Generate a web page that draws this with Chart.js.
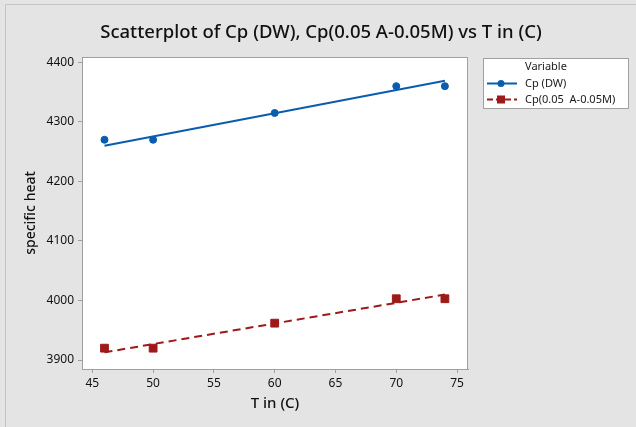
<!DOCTYPE html>
<html>
<head>
<meta charset="utf-8">
<script src="https://cdn.jsdelivr.net/npm/chart.js@4.4.1/dist/chart.umd.min.js"></script>
<style>
    html, body { margin: 0; padding: 0; background: #e4e4e4; }
    #wrap { width: 636px; height: 427px; position: relative; }
</style>
</head>
<body>
<div id="wrap"><canvas id="scatterChart" width="636" height="427"></canvas></div>
<script>
// temperatures (C)
const tempC = [46, 50, 60, 70, 74];
// specific heat readings
const cpDW = [4270, 4270, 4315, 4360, 4360];
const cpMix = [3920, 3920, 3962, 4003, 4003];
// fitted line end points
const fitX = [46, 74];
const fitDW = [4260, 4369];
const fitMix = [3913, 4010];
// axis ticks
const xTicks = [45, 50, 55, 60, 65, 70, 75];
const yTicks = [3900, 4000, 4100, 4200, 4300, 4400];

const seriesNames = ['Cp (DW)', 'Cp(0.05  A-0.05M)'];
const blue = '#0a5cae';
const red = '#9c1a1a';
const fontName = "'Noto Sans', 'Open Sans', sans-serif";

function toPoints(xs, ys) {
    return xs.map((x, i) => ({ x: x, y: ys[i] }));
}

// grey page, white plot area with a frame
const backdrop = {
    id: 'backdrop',
    beforeDraw(chart) {
        const { ctx, chartArea: a } = chart;
        ctx.save();
        ctx.fillStyle = '#e4e4e4';
        ctx.fillRect(0, 0, chart.width, chart.height);
        ctx.strokeStyle = '#c4c4c4';
        ctx.lineWidth = 1;
        ctx.beginPath();
        ctx.moveTo(5.5, chart.height);
        ctx.lineTo(5.5, 4.5);
        ctx.lineTo(chart.width, 4.5);
        ctx.stroke();
        ctx.fillStyle = '#ffffff';
        ctx.fillRect(a.left, a.top, a.right - a.left, a.bottom - a.top);
        ctx.restore();
    },
    afterDraw(chart) {
        const { ctx, chartArea: a } = chart;
        ctx.save();
        ctx.strokeStyle = '#a0a0a0';
        ctx.lineWidth = 1;
        ctx.strokeRect(a.left + 0.5, a.top + 0.5, a.right - a.left - 1, a.bottom - a.top);
        ctx.restore();
    }
};

// title over the whole page
const pageTitle = {
    id: 'pageTitle',
    afterDraw(chart) {
        const ctx = chart.ctx;
        ctx.save();
        ctx.fillStyle = '#111111';
        ctx.font = '500 18.5px ' + fontName;
        ctx.textAlign = 'center';
        ctx.textBaseline = 'middle';
        ctx.fillText('Scatterplot of Cp (DW), Cp(0.05 A-0.05M) vs T in (C)', 321, 33);
        ctx.restore();
    }
};

// Minitab style legend box with line + marker symbols
const sideLegend = {
    id: 'sideLegend',
    afterDraw(chart) {
        const ctx = chart.ctx;
        ctx.save();
        ctx.fillStyle = '#ffffff';
        ctx.fillRect(483, 58, 145, 50);
        ctx.strokeStyle = '#a0a0a0';
        ctx.lineWidth = 1;
        ctx.strokeRect(483.5, 58.5, 145, 50);

        ctx.fillStyle = '#1a1a1a';
        ctx.font = '11px ' + fontName;
        ctx.textBaseline = 'middle';
        ctx.fillText('Variable', 525, 67);

        const rows = [
            { y: 83.5, color: blue, dash: [], shape: 'circle' },
            { y: 99.5, color: red, dash: [6, 3], shape: 'rect' }
        ];
        rows.forEach((r, i) => {
            ctx.strokeStyle = r.color;
            ctx.lineWidth = 2;
            ctx.setLineDash(r.dash);
            ctx.beginPath();
            ctx.moveTo(487, r.y);
            ctx.lineTo(517, r.y);
            ctx.stroke();
            ctx.setLineDash([]);
            ctx.fillStyle = r.color;
            if (r.shape === 'circle') {
                ctx.beginPath();
                ctx.arc(501, r.y, 3.5, 0, Math.PI * 2);
                ctx.fill();
            } else {
                ctx.fillRect(497, r.y - 4, 8, 8);
            }
            ctx.fillStyle = '#1a1a1a';
            ctx.fillText(seriesNames[i], 525, r.y);
        });
        ctx.restore();
    }
};

const ctx = document.getElementById('scatterChart').getContext('2d');

new Chart(ctx, {
    type: 'scatter',
    data: {
        datasets: [
            {
                label: seriesNames[0],
                data: toPoints(tempC, cpDW),
                backgroundColor: blue,
                borderColor: blue,
                pointStyle: 'circle',
                pointRadius: 3.5,
                showLine: false
            },
            {
                label: seriesNames[1],
                data: toPoints(tempC, cpMix),
                backgroundColor: red,
                borderColor: red,
                pointStyle: 'rect',
                pointRadius: 5.5,
                showLine: false
            },
            {
                label: 'fit DW',
                data: toPoints(fitX, fitDW),
                borderColor: blue,
                borderWidth: 2,
                pointRadius: 0,
                showLine: true
            },
            {
                label: 'fit mix',
                data: toPoints(fitX, fitMix),
                borderColor: red,
                borderWidth: 2,
                borderDash: [8, 5],
                pointRadius: 0,
                showLine: true
            }
        ]
    },
    options: {
        responsive: false,
        animation: false,
        layout: {
            padding: { left: 0, top: 57, right: 168, bottom: 0 }
        },
        plugins: {
            legend: { display: false },
            title: { display: false },
            tooltip: { enabled: false }
        },
        scales: {
            x: {
                type: 'linear',
                min: 44.15,
                max: 75.9,
                afterBuildTicks: (scale) => { scale.ticks = xTicks.map(v => ({ value: v })); },
                afterFit: (scale) => { scale.height = 58; },
                grid: { drawOnChartArea: false, drawTicks: true, tickLength: 4, color: '#a0a0a0' },
                border: { display: true, color: '#a0a0a0' },
                ticks: {
                    color: '#111111',
                    padding: 3,
                    font: { family: fontName, size: 12 },
                    callback: (value) => String(value)
                },
                title: {
                    display: true,
                    text: 'T in (C)',
                    color: '#111111',
                    font: { family: fontName, size: 15, weight: 500 },
                    padding: { top: 2, bottom: 14 }
                }
            },
            y: {
                type: 'linear',
                min: 3885,
                max: 4409,
                afterBuildTicks: (scale) => { scale.ticks = yTicks.map(v => ({ value: v })); },
                afterFit: (scale) => { scale.width = 82; },
                grid: { drawOnChartArea: false, drawTicks: true, tickLength: 4, color: '#a0a0a0' },
                border: { display: true, color: '#a0a0a0' },
                ticks: {
                    color: '#111111',
                    padding: 4,
                    font: { family: fontName, size: 12 },
                    callback: (value) => String(value)
                },
                title: {
                    display: true,
                    text: 'specific heat',
                    color: '#111111',
                    font: { family: fontName, size: 14, weight: 500 },
                    padding: { top: 23, bottom: 0 }
                }
            }
        }
    },
    plugins: [backdrop, pageTitle, sideLegend]
});
</script>
</body>
</html>
